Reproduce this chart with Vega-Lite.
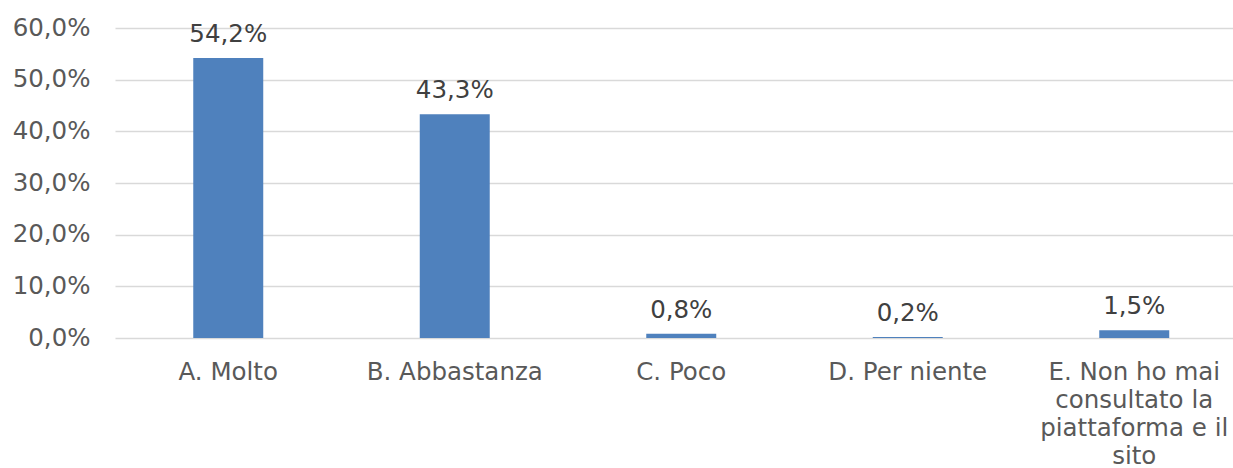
{
  "$schema": "https://vega.github.io/schema/vega-lite/v6.json",
  "width": 1118,
  "height": 310,
  "autosize": {"type": "none"},
  "padding": {"left": 115, "top": 28, "right": 0, "bottom": 130},
  "background": "white",
  "config": {
    "locale": {"number": {"decimal": ",", "thousands": ".", "grouping": [3], "currency": ["€", ""]}},
    "view": {"stroke": null},
    "font": "DejaVu Sans"
  },
  "data": {
    "values": [
      {"categoria": "A. Molto", "valore": 0.542},
      {"categoria": "B. Abbastanza", "valore": 0.433},
      {"categoria": "C. Poco", "valore": 0.008},
      {"categoria": "D. Per niente", "valore": 0.002},
      {"categoria": "E. Non ho mai consultato la piattaforma e il sito", "valore": 0.015}
    ]
  },
  "encoding": {
    "x": {
      "field": "categoria",
      "type": "nominal",
      "sort": null,
      "scale": {"range": [0, 1132.5], "paddingInner": 0.691, "paddingOuter": 0.3455},
      "axis": {
        "title": null,
        "domain": false,
        "ticks": false,
        "labelAngle": 0,
        "labelFont": "DejaVu Sans",
        "labelFontSize": 24.5,
        "labelColor": "#595959",
        "labelPadding": 22,
        "labelLineHeight": 28,
        "labelLimit": 400,
        "labelExpr": "datum.label == 'E. Non ho mai consultato la piattaforma e il sito' ? ['E. Non ho mai', 'consultato la', 'piattaforma e il', 'sito'] : datum.label"
      }
    },
    "y": {
      "field": "valore",
      "type": "quantitative",
      "scale": {"domain": [0, 0.6], "nice": false},
      "axis": {
        "title": null,
        "format": ".1%",
        "values": [0, 0.1, 0.2, 0.3, 0.4, 0.5, 0.6],
        "domain": false,
        "ticks": false,
        "labelFont": "DejaVu Sans",
        "labelFontSize": 24.5,
        "labelColor": "#595959",
        "labelPadding": 25,
        "gridColor": "#D9D9D9",
        "gridWidth": 1.5
      }
    }
  },
  "layer": [
    {"mark": {"type": "bar", "color": "#4F81BD"}},
    {
      "mark": {"type": "text", "baseline": "alphabetic", "dy": -16, "fontSize": 24.5, "color": "#404040", "font": "DejaVu Sans"},
      "encoding": {"text": {"field": "valore", "type": "quantitative", "format": ".1%"}}
    }
  ]
}
